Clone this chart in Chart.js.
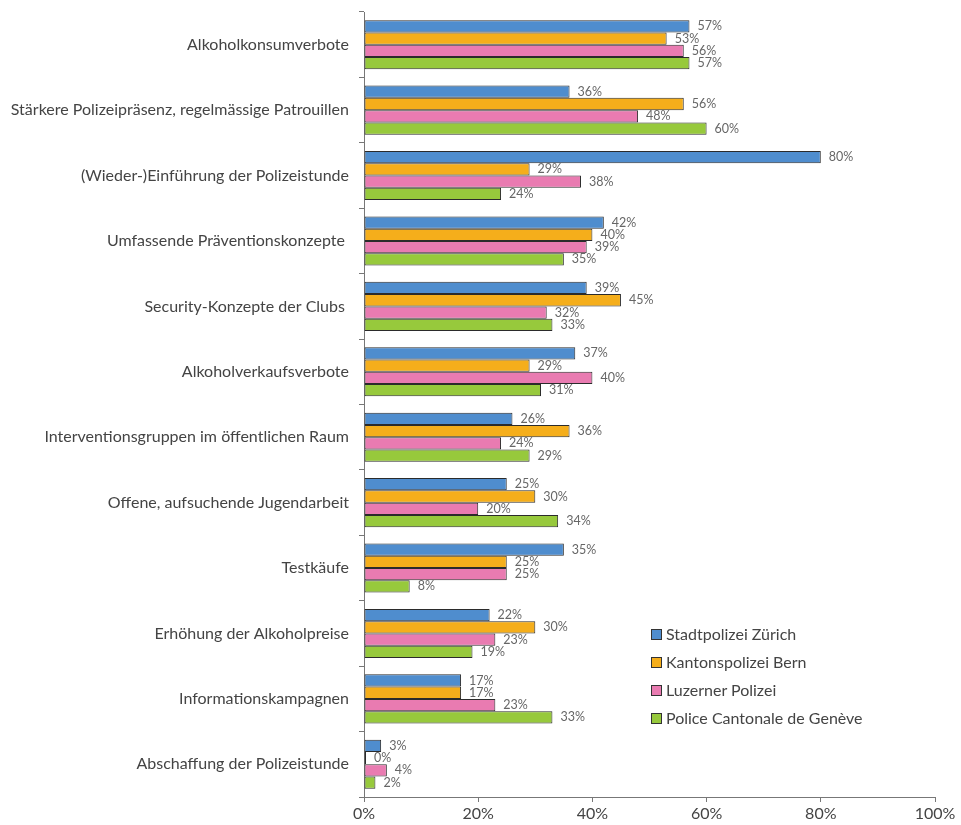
<!DOCTYPE html>
<html lang="de">
<head>
<meta charset="utf-8">
<title>Massnahmen</title>
<script src="https://cdn.jsdelivr.net/npm/chart.js@4/dist/chart.umd.min.js"></script>
<style>
  html, body { margin: 0; padding: 0; background: #fff; }
  #wrap { position: relative; width: 961px; height: 825px; }
  #legend {
    position: absolute; left: 651px; top: 620px;
    font: 16px Lato, "Open Sans", sans-serif; color: #444;
  }
  #legend div { height: 28px; line-height: 20px; display: flex; align-items: center; }
  #legend span.box {
    display: inline-block; width: 9px; height: 9px; margin-right: 4px;
    border: 1px solid #333;
  }
</style>
</head>
<body>
<div id="wrap">
  <canvas id="chart" width="961" height="825"></canvas>
  <div id="legend"></div>
</div>
<script>
// Massnahmen gegen Probleme im Nachtleben, Anteil Nennungen je Polizeikorps
const categories = [
  "Alkoholkonsumverbote",
  "Stärkere Polizeipräsenz, regelmässige Patrouillen",
  "(Wieder-)Einführung der Polizeistunde",
  "Umfassende Präventionskonzepte ",
  "Security-Konzepte der Clubs ",
  "Alkoholverkaufsverbote",
  "Interventionsgruppen im öffentlichen Raum",
  "Offene, aufsuchende Jugendarbeit",
  "Testkäufe",
  "Erhöhung der Alkoholpreise",
  "Informationskampagnen",
  "Abschaffung der Polizeistunde"
];

const seriesNames = [
  "Stadtpolizei Zürich",
  "Kantonspolizei Bern",
  "Luzerner Polizei",
  "Police Cantonale de Genève"
];

const zuerich = [57, 36, 80, 42, 39, 37, 26, 25, 35, 22, 17, 3];
const bern    = [53, 56, 29, 40, 45, 29, 36, 30, 25, 30, 17, 0];
const luzern  = [56, 48, 38, 39, 32, 40, 24, 20, 25, 23, 23, 4];
const genf    = [57, 60, 24, 35, 33, 31, 29, 34, 8, 19, 33, 2];

const xTicks = [0, 20, 40, 60, 80, 100];

const colors = ["#4f8dce", "#f5ae1b", "#e97bb1", "#97c93c"];
const FONT = "Lato, 'Open Sans', sans-serif";

const allSeries = [zuerich, bern, luzern, genf];

// Wertbeschriftung rechts neben jedem Balken
const valueLabels = {
  id: "valueLabels",
  afterDatasetsDraw(chart) {
    const ctx = chart.ctx;
    ctx.save();
    ctx.font = "12.5px " + FONT;
    ctx.fillStyle = "#666";
    ctx.textAlign = "left";
    ctx.textBaseline = "middle";
    chart.data.datasets.forEach((ds, i) => {
      const meta = chart.getDatasetMeta(i);
      meta.data.forEach((bar, j) => {
        ctx.fillText(ds.data[j] + "%", bar.x + 8, bar.y);
      });
    });
    ctx.restore();
  }
};

new Chart(document.getElementById("chart"), {
  type: "bar",
  data: {
    labels: categories,
    datasets: allSeries.map((data, i) => ({
      label: seriesNames[i],
      data: data,
      backgroundColor: colors[i],
      borderColor: "#2b2b2b",
      borderWidth: 1,
      borderSkipped: false,
      minBarLength: 2,
      categoryPercentage: 0.75,
      barPercentage: 1.0
    }))
  },
  options: {
    indexAxis: "y",
    responsive: false,
    animation: false,
    layout: { padding: { left: 0, right: 26, top: 12, bottom: 0 } },
    scales: {
      x: {
        min: 0,
        max: 100,
        afterBuildTicks(scale) {
          scale.ticks = xTicks.map(v => ({ value: v }));
        },
        afterFit(scale) { scale.height = 28; },
        border: { color: "#777", width: 1 },
        grid: { drawOnChartArea: false, tickLength: 5, color: "#777" },
        ticks: {
          color: "#444",
          font: { family: FONT, size: 16 },
          padding: 2,
          callback: v => v + "%"
        }
      },
      y: {
        afterFit(scale) {
          scale.width = 364;
          scale.paddingTop = 0;
          scale.paddingBottom = 0;
        },
        border: { color: "#777", width: 1 },
        grid: { offset: true, drawOnChartArea: false, tickLength: 5, color: "#777" },
        ticks: {
          color: "#444",
          font: { family: FONT, size: 16 },
          padding: 10
        }
      }
    },
    plugins: {
      legend: { display: false },
      tooltip: { enabled: false }
    }
  },
  plugins: [valueLabels]
});

// Legende im Diagrammfeld unten rechts
const legendEl = document.getElementById("legend");
seriesNames.forEach((name, i) => {
  const row = document.createElement("div");
  const box = document.createElement("span");
  box.className = "box";
  box.style.background = colors[i];
  row.appendChild(box);
  row.appendChild(document.createTextNode(name));
  legendEl.appendChild(row);
});
</script>
</body>
</html>
